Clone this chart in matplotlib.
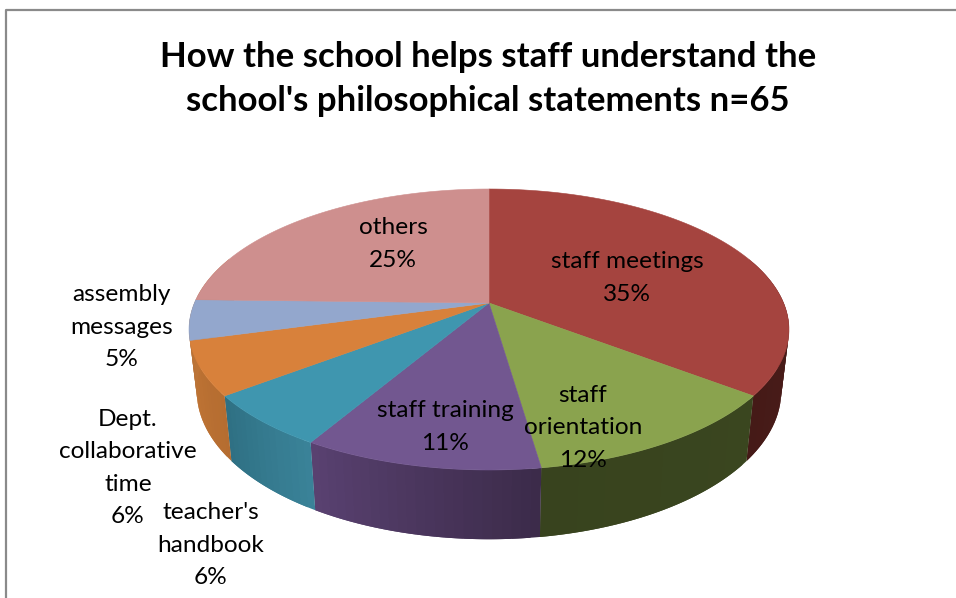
import matplotlib
matplotlib.use("Agg")
import matplotlib.pyplot as plt
import matplotlib.colors as mcolors
import numpy as np

# Data (counts out of n=65, slices run clockwise from the top)
title = "How the school helps staff understand the\nschool's philosophical statements n=65"
categories = ["staff meetings", "staff\norientation", "staff training", "teacher's\nhandbook",
              "Dept.\ncollaborative\ntime", "assembly\nmessages", "others"]
counts = [23, 8, 7, 4, 4, 3, 16]

# Colours
top_colors = ["#A5443F", "#8AA34E", "#725790", "#3F96AF", "#D8813B", "#93A7CD", "#CE8F8E"]
wall_start = ["#4E1E1B", "#3A461F", "#3C2B4A", "#3A8298", "#B56D31", "#B9743A", "#B9743A"]
wall_end = ["#451A17", "#38431E", "#5A4272", "#2E6F82", "#C07434", "#C07434", "#C07434"]

# Label centres in pixels
label_x = [627, 583, 445, 211, 128, 122, 393]
label_y = [278, 428, 427, 545, 468, 327, 244]

plt.rcParams["font.family"] = ["Lato", "DejaVu Sans"]


# Perspective projection of the pie, angle in degrees clockwise from the top
def top_rim(angle):
    t = np.radians(angle)
    w = 1 + 0.1886 * np.cos(t)
    return 489 + 294.6 * np.sin(t) / w, 303 - 135.5 * np.cos(t) / w


def bottom_rim(angle):
    t = np.radians(angle)
    w = 1 + 0.1886 * np.cos(t)
    return 489 + 287 * np.sin(t) / w, 363 - 143 * np.cos(t) / w


fig = plt.figure(figsize=(9.56, 5.98), dpi=100)
ax = fig.add_axes([0, 0, 1, 1])
ax.set_xlim(0, 956)
ax.set_ylim(598, 0)
ax.axis("off")

edges = np.concatenate([[0], np.cumsum(counts)]) / sum(counts) * 360

# Side walls, only the front part shows. Strips overlap the next one so no seams show
for i in range(len(counts)):
    a0 = max(edges[i], 70)
    a1 = min(edges[i + 1], 290)
    if a1 <= a0:
        continue
    c0 = np.array(mcolors.to_rgb(wall_start[i]))
    c1 = np.array(mcolors.to_rgb(wall_end[i]))
    steps = np.linspace(a0, a1, max(3, int((a1 - a0) / 1.5) + 1))
    for j in range(len(steps) - 1):
        seg = np.linspace(steps[j], steps[min(j + 2, len(steps) - 1)], 4)
        tx, ty = top_rim(seg)
        bx, by = bottom_rim(seg)
        col = c0 + (c1 - c0) * j / (len(steps) - 1)
        ax.fill(np.r_[tx, bx[::-1]], np.r_[ty, by[::-1]], color=col, lw=0, zorder=2)

# Top face
for i in range(len(counts)):
    angles = np.linspace(edges[i], edges[i + 1], 80)
    x, y = top_rim(angles)
    ax.fill(np.r_[489, x], np.r_[303, y], color=top_colors[i], lw=0.4, zorder=3)

# Slice labels
for i in range(len(counts)):
    pct = round(counts[i] / sum(counts) * 100)
    ax.text(label_x[i], label_y[i], f"{categories[i]}\n{pct}%", ha="center", va="center",
            fontsize=17.6, linespacing=1.68, color="black", zorder=5)

ax.text(488, 79, title, ha="center", va="center", fontsize=25, fontweight="bold",
        linespacing=1.44, color="black", zorder=5)

# Chart frame, cut off on the right and at the bottom
ax.plot([6, 6, 956], [598, 10, 10], color="#8A8A8A", lw=1.6, zorder=1)

plt.savefig("out.png", dpi=100)
